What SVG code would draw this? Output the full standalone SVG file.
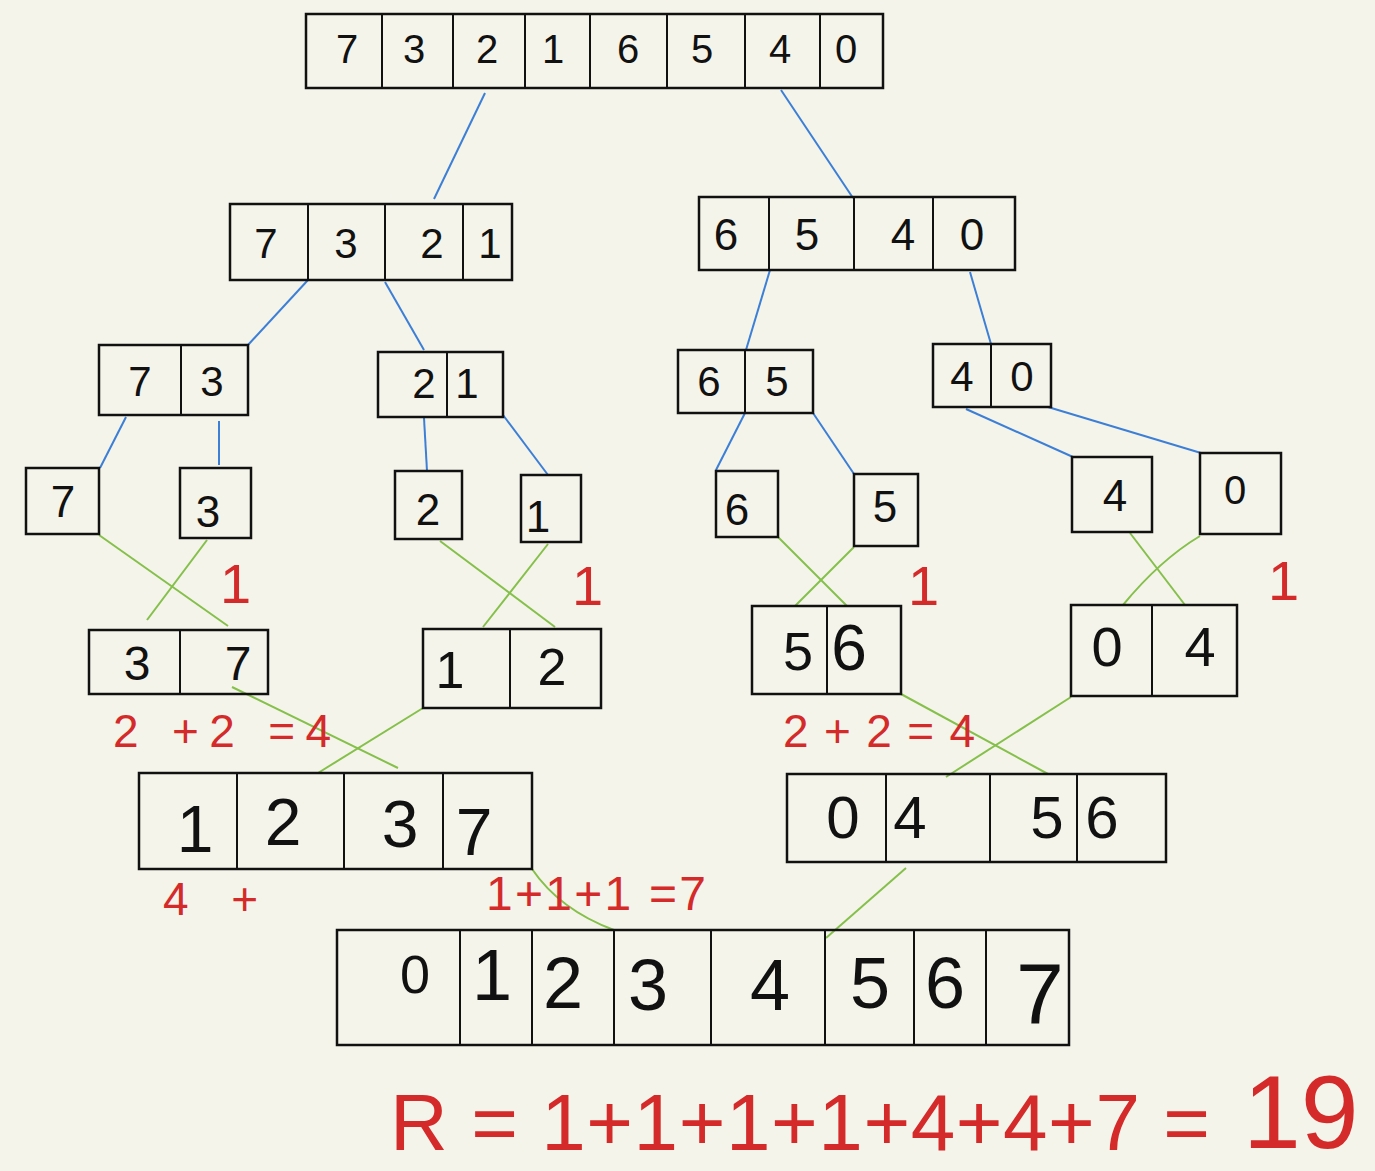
<svg xmlns="http://www.w3.org/2000/svg" width="1375" height="1171" viewBox="0 0 1375 1171">
<style>
.bg{fill:#f5f4ea}
.box{fill:none;stroke:#111;stroke-width:2.5}
.div{stroke:#111;stroke-width:2}
.d{font-family:"Liberation Sans",Arial,sans-serif;fill:#111;text-anchor:middle}
.b{stroke:#3c7fd6;stroke-width:2;fill:none}
.g{stroke:#84c04a;stroke-width:2;fill:none}
.r{font-family:"Liberation Sans",Arial,sans-serif;fill:#d42a2a}
</style>
<rect class="bg" x="0" y="0" width="1375" height="1171"/>

<g id="connectors">
<line class="b" x1="485" y1="93" x2="434" y2="199"/>
<line class="b" x1="781" y1="90" x2="853" y2="198"/>
<line class="b" x1="308" y1="280" x2="248" y2="345"/>
<line class="b" x1="385" y1="282" x2="424" y2="350"/>
<line class="b" x1="770" y1="270" x2="746" y2="350"/>
<line class="b" x1="970" y1="272" x2="991" y2="344"/>
<line class="b" x1="126" y1="417" x2="100" y2="468"/>
<line class="b" x1="219" y1="421" x2="219" y2="465"/>
<line class="b" x1="424" y1="418" x2="427" y2="471"/>
<line class="b" x1="503" y1="415" x2="548" y2="475"/>
<line class="b" x1="745" y1="413" x2="716" y2="470"/>
<line class="b" x1="813" y1="413" x2="854" y2="474"/>
<line class="b" x1="966" y1="409" x2="1073" y2="457"/>
<line class="b" x1="1048" y1="407" x2="1201" y2="453"/>
<line class="g" x1="99" y1="535" x2="228" y2="626"/>
<line class="g" x1="207" y1="540" x2="147" y2="620"/>
<line class="g" x1="440" y1="541" x2="555" y2="627"/>
<line class="g" x1="548" y1="544" x2="483" y2="627"/>
<line class="g" x1="778" y1="537" x2="847" y2="606"/>
<line class="g" x1="854" y1="547" x2="795" y2="606"/>
<line class="g" x1="1130" y1="533" x2="1185" y2="605"/>
<path class="g" d="M1200,536 Q1160,560 1123,605"/>
<line class="g" x1="232" y1="687" x2="398" y2="768"/>
<line class="g" x1="423" y1="708" x2="318" y2="773"/>
<line class="g" x1="901" y1="694" x2="1048" y2="774"/>
<line class="g" x1="1071" y1="697" x2="946" y2="777"/>
<path class="g" d="M532,869 Q560,910 614,930"/>
<line class="g" x1="906" y1="868" x2="826" y2="938"/>
</g>

<g id="n-73216540">
<rect class="box" x="306" y="14" width="577" height="74"/>
<path class="div" d="M382,14V88M453,14V88M525,14V88M590,14V88M667,14V88M745,14V88M820,14V88"/>
<g class="d" font-size="40">
<text x="347" y="63">7</text><text x="414" y="63">3</text><text x="487" y="63">2</text><text x="553" y="63">1</text>
<text x="628" y="63">6</text><text x="702" y="63">5</text><text x="780" y="63">4</text><text x="846" y="63">0</text>
</g>
</g>

<g id="n-7321">
<rect class="box" x="230" y="204" width="282" height="76"/>
<path class="div" d="M308,204V280M385,204V280M463,204V280"/>
<g class="d" font-size="42">
<text x="266" y="258">7</text><text x="346" y="258">3</text><text x="432" y="258">2</text><text x="490" y="258">1</text>
</g>
</g>

<g id="n-6540">
<rect class="box" x="699" y="197" width="316" height="73"/>
<path class="div" d="M769,197V270M854,197V270M933,197V270"/>
<g class="d" font-size="44">
<text x="726" y="250">6</text><text x="807" y="250">5</text><text x="903" y="250">4</text><text x="972" y="250">0</text>
</g>
</g>

<g id="n-73">
<rect class="box" x="99" y="345" width="149" height="70"/>
<path class="div" d="M181,345V415"/>
<g class="d" font-size="42"><text x="140" y="396">7</text><text x="212" y="396">3</text></g>
</g>

<g id="n-21">
<rect class="box" x="378" y="352" width="125" height="65"/>
<path class="div" d="M447,352V417"/>
<g class="d" font-size="42"><text x="424" y="398">2</text><text x="467" y="398">1</text></g>
</g>

<g id="n-65">
<rect class="box" x="678" y="350" width="135" height="63"/>
<path class="div" d="M745,350V413"/>
<g class="d" font-size="42"><text x="709" y="396">6</text><text x="777" y="396">5</text></g>
</g>

<g id="n-40">
<rect class="box" x="933" y="344" width="118" height="63"/>
<path class="div" d="M991,344V407"/>
<g class="d" font-size="42"><text x="962" y="391">4</text><text x="1022" y="391">0</text></g>
</g>

<g id="n-7"><rect class="box" x="26" y="468" width="73" height="66"/><text class="d" font-size="44" x="63" y="517">7</text></g>
<g id="n-3"><rect class="box" x="180" y="468" width="71" height="70"/><text class="d" font-size="44" x="208" y="527">3</text></g>
<g id="n-2"><rect class="box" x="395" y="471" width="67" height="68"/><text class="d" font-size="44" x="428" y="525">2</text></g>
<g id="n-1"><rect class="box" x="521" y="475" width="60" height="67"/><text class="d" font-size="44" x="538" y="532">1</text></g>
<g id="n-6"><rect class="box" x="716" y="471" width="62" height="66"/><text class="d" font-size="44" x="737" y="525">6</text></g>
<g id="n-5"><rect class="box" x="854" y="474" width="64" height="72"/><text class="d" font-size="44" x="885" y="522">5</text></g>
<g id="n-4"><rect class="box" x="1072" y="457" width="80" height="75"/><text class="d" font-size="44" x="1115" y="511">4</text></g>
<g id="n-0"><rect class="box" x="1200" y="453" width="81" height="81"/><text class="d" font-size="40" x="1235" y="504">0</text></g>

<g id="n-37">
<rect class="box" x="89" y="630" width="179" height="64"/>
<path class="div" d="M180,630V694"/>
<g class="d" font-size="48"><text x="137" y="680">3</text><text x="238" y="680">7</text></g>
</g>

<g id="n-12">
<rect class="box" x="423" y="629" width="178" height="79"/>
<path class="div" d="M510,629V708"/>
<g class="d" font-size="52"><text x="450" y="688">1</text><text x="552" y="685">2</text></g>
</g>

<g id="n-56">
<rect class="box" x="752" y="606" width="149" height="88"/>
<path class="div" d="M827,606V694"/>
<g class="d" font-size="54"><text x="798" y="670">5</text><text x="849" y="670" font-size="64">6</text></g>
</g>

<g id="n-04">
<rect class="box" x="1071" y="605" width="166" height="91"/>
<path class="div" d="M1152,605V696"/>
<g class="d" font-size="56"><text x="1107" y="666">0</text><text x="1200" y="666">4</text></g>
</g>

<g id="n-1237">
<rect class="box" x="139" y="773" width="393" height="96"/>
<path class="div" d="M237,773V869M344,773V869M443,773V869"/>
<g class="d" font-size="66"><text x="195" y="852">1</text><text x="283" y="845">2</text><text x="400" y="847">3</text><text x="474" y="855">7</text></g>
</g>

<g id="n-0456">
<rect class="box" x="787" y="774" width="379" height="88"/>
<path class="div" d="M886,774V862M990,774V862M1077,774V862"/>
<g class="d" font-size="60"><text x="843" y="838">0</text><text x="910" y="838">4</text><text x="1047" y="838">5</text><text x="1102" y="838">6</text></g>
</g>

<g id="n-01234567">
<rect class="box" x="337" y="930" width="732" height="115"/>
<path class="div" d="M460,930V1045M532,930V1045M614,930V1045M711,930V1045M825,930V1045M914,930V1045M986,930V1045"/>
<g class="d" font-size="72"><text x="415" y="993" font-size="54">0</text><text x="492" y="1000">1</text><text x="563" y="1008">2</text><text x="648" y="1010">3</text><text x="770" y="1010">4</text><text x="870" y="1008">5</text><text x="945" y="1008">6</text><text x="1040" y="1023" font-size="86">7</text></g>
</g>

<g id="labels">
<text class="r" font-size="56" x="220" y="603">1</text>
<text class="r" font-size="56" x="572" y="605">1</text>
<text class="r" font-size="56" x="908" y="605">1</text>
<text class="r" font-size="56" x="1268" y="600">1</text>
<text class="r" font-size="46" x="113" y="747" textLength="218" lengthAdjust="spacing">2 +2 =4</text>
<text class="r" font-size="46" x="783" y="747" textLength="192" lengthAdjust="spacing">2+2=4</text>
<text class="r" font-size="46" x="163" y="915" textLength="95" lengthAdjust="spacing">4 +</text>
<text class="r" font-size="48" x="486" y="910" textLength="220" lengthAdjust="spacing">1+1+1 =7</text>
<text class="r" font-size="80" x="390" y="1150" textLength="820" lengthAdjust="spacing">R = 1+1+1+1+4+4+7 =</text>
<text class="r" font-size="104" x="1243" y="1148">19</text>
</g>
</svg>
